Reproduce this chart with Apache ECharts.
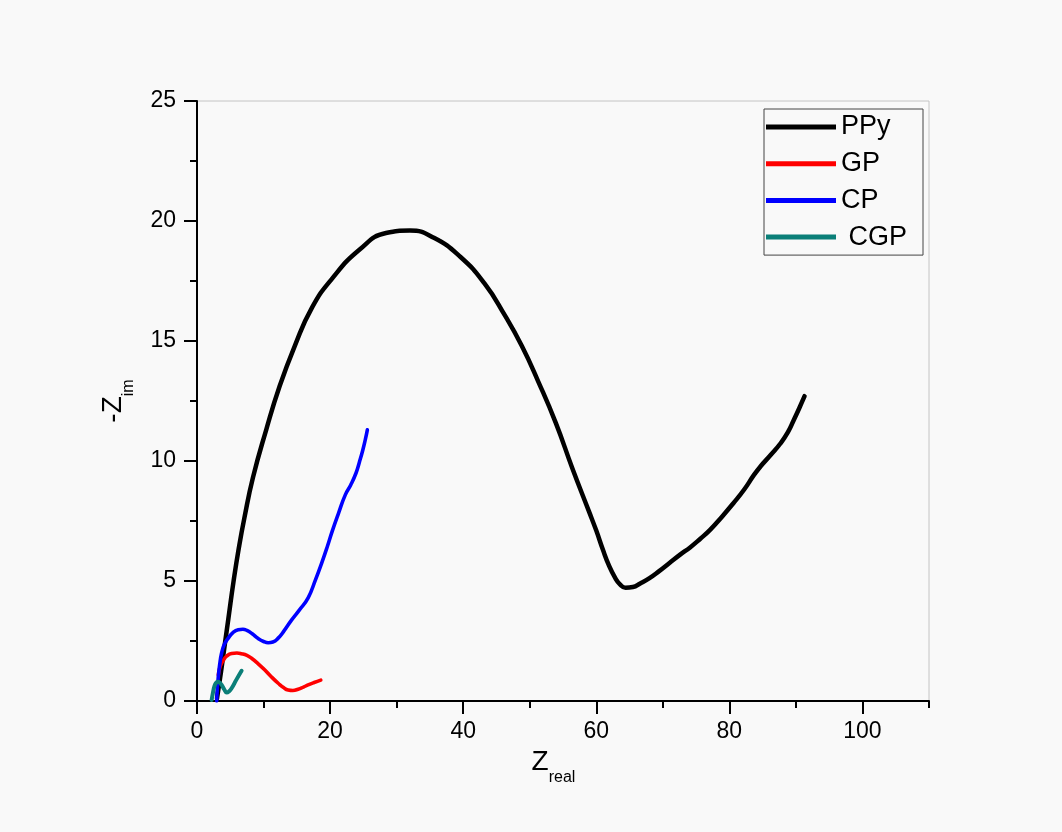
<!DOCTYPE html>
<html>
<head>
<meta charset="utf-8">
<script src="https://cdn.jsdelivr.net/npm/echarts@6/dist/echarts.min.js"></script>
<style>
  html, body { margin: 0; padding: 0; background: #f9f9f9; }
  #chart { width: 1062px; height: 832px; }
</style>
</head>
<body>
<div id="chart"></div>
<script>
// ---- data ----
const seriesNames = ['PPy', 'GP', 'CP', ' CGP'];

const ppyX = [3.0, 3.6, 4.2, 4.7, 5.5, 6.3, 7.1, 8.4, 10.4, 12.4, 14.7, 17.3, 20.3, 24.4, 28.4, 32.0, 35.6, 39.6, 43.2, 46.2, 48.8, 51.3, 53.9, 56.4, 58.9, 60.0, 61.0, 61.9, 62.8, 63.6, 64.4, 65.5, 66.6, 68.0, 69.4, 71.0, 72.6, 74.1, 75.6, 77.1, 78.8, 80.6, 82.2, 83.7, 84.7, 86.2, 87.7, 88.8, 89.7, 90.5, 91.3];
const ppyY = [0.1, 1.2, 2.4, 3.4, 5.0, 6.4, 7.6, 9.3, 11.3, 13.1, 14.8, 16.4, 17.6, 18.8, 19.5, 19.6, 19.3, 18.5, 17.4, 16.1, 14.8, 13.3, 11.6, 9.7, 7.9, 7.1, 6.3, 5.65, 5.15, 4.85, 4.72, 4.75, 4.9, 5.12, 5.4, 5.75, 6.1, 6.4, 6.75, 7.13, 7.65, 8.24, 8.8, 9.42, 9.78, 10.25, 10.74, 11.2, 11.72, 12.2, 12.7];

const gpX = [3.2, 3.5, 3.96, 4.5, 5.2, 6.0, 6.7, 7.5, 8.2, 9.2, 10.2, 11.2, 12.2, 13.0, 13.7, 14.4, 15.2, 16.0, 16.7, 17.6, 18.6];
const gpY = [1.08, 1.45, 1.7, 1.88, 1.98, 2.0, 1.97, 1.9, 1.78, 1.55, 1.29, 1.0, 0.74, 0.56, 0.46, 0.44, 0.49, 0.58, 0.67, 0.77, 0.87];

const cpX = [2.96, 3.05, 3.2, 3.4, 3.7, 4.1, 4.7, 5.4, 6.2, 6.9, 7.5, 8.3, 9.2, 10.0, 10.7, 11.4, 12.2, 13.1, 14.2, 15.4, 16.7, 17.8, 18.8, 19.6, 20.3, 21.3, 22.3, 23.1, 23.9, 24.4, 24.9, 25.3, 25.6];
const cpY = [0, 0.5, 1.0, 1.5, 2.0, 2.35, 2.62, 2.85, 2.97, 2.99, 2.94, 2.8, 2.6, 2.48, 2.43, 2.46, 2.62, 2.93, 3.37, 3.8, 4.3, 5.05, 5.8, 6.45, 7.06, 7.85, 8.6, 9.0, 9.5, 9.95, 10.44, 10.9, 11.3];

const cgpX = [2.2, 2.4, 2.6, 2.85, 3.1, 3.4, 3.7, 4.1, 4.46, 4.8, 5.2, 5.9, 6.7];
const cgpY = [0.04, 0.35, 0.6, 0.75, 0.8, 0.77, 0.67, 0.48, 0.35, 0.4, 0.53, 0.88, 1.26];

const xMajorTicks = [0, 20, 40, 60, 80, 100];
const xMinorTicks = [10, 30, 50, 70, 90, 110];

// ---- chart ----
const FONT = 'Arial, "Liberation Sans", sans-serif';
const pairs = (xs, ys) => xs.map((x, i) => [x, ys[i]]);
const colors = ['#000000', '#ff0000', '#0000ff', '#0b7f78'];
const widths = [4.5, 3.6, 3.6, 4];
const dataSets = [pairs(ppyX, ppyY), pairs(gpX, gpY), pairs(cpX, cpY), pairs(cgpX, cgpY)];

const chart = echarts.init(document.getElementById('chart'), null, { renderer: 'canvas' });

const nameRich = {
  a: { fontSize: 28, lineHeight: 48, fontFamily: FONT, color: '#000' },
  b: { fontSize: 16, lineHeight: 16, verticalAlign: 'bottom', fontFamily: FONT, color: '#000' }
};

chart.setOption({
  backgroundColor: '#f9f9f9',
  animation: false,
  grid: {
    left: 197, right: 133, top: 101, bottom: 131,
    show: true, borderColor: '#c4c4c4', borderWidth: 1, backgroundColor: 'transparent'
  },
  legend: {
    orient: 'vertical',
    left: 764, top: 109,
    icon: 'rect',
    itemWidth: 70, itemHeight: 5, itemGap: 6.7,
    padding: [3, 16, 3, 2],
    borderColor: '#444', borderWidth: 1,
    textStyle: { fontSize: 27, lineHeight: 30, fontFamily: FONT, color: '#000' },
    data: seriesNames
  },
  xAxis: [{
    type: 'value', min: 0, max: 110, interval: 20,
    position: 'bottom',
    name: '{a|Z}{b|real}',
    nameLocation: 'middle', nameGap: 37,
    nameTextStyle: { rich: nameRich, padding: [0, 19, 0, 0] },
    axisLine: { show: true, onZero: false, lineStyle: { color: '#000', width: 2 } },
    axisTick: { show: true, length: 13, customValues: xMajorTicks, lineStyle: { color: '#000', width: 2 } },
    axisLabel: { customValues: xMajorTicks, fontSize: 23, fontFamily: FONT, color: '#000', margin: 19 },
    splitLine: { show: false }
  }, {
    type: 'value', min: 0, max: 110, interval: 10,
    position: 'bottom',
    axisLine: { show: false },
    axisTick: { show: true, length: 7, customValues: xMinorTicks, lineStyle: { color: '#000', width: 2 } },
    axisLabel: { show: false },
    splitLine: { show: false }
  }],
  yAxis: {
    type: 'value', min: 0, max: 25, interval: 5,
    name: '{a|-Z}{b|im}',
    nameLocation: 'middle', nameGap: 60,
    nameTextStyle: { rich: nameRich },
    axisLine: { show: true, onZero: false, lineStyle: { color: '#000', width: 2 } },
    axisTick: { show: true, length: 13, lineStyle: { color: '#000', width: 2 } },
    minorTick: { show: true, splitNumber: 2, length: 7, lineStyle: { color: '#000', width: 2 } },
    axisLabel: { fontSize: 23, fontFamily: FONT, color: '#000', margin: 21 },
    splitLine: { show: false }
  },
  series: seriesNames.map((n, i) => ({
    name: n,
    type: 'line',
    xAxisIndex: 0,
    data: dataSets[i],
    smooth: 0.5,
    symbol: 'none',
    color: colors[i],
    lineStyle: { color: colors[i], width: widths[i], cap: 'round', join: 'round' },
    z: 2 + i
  }))
});
</script>
</body>
</html>
